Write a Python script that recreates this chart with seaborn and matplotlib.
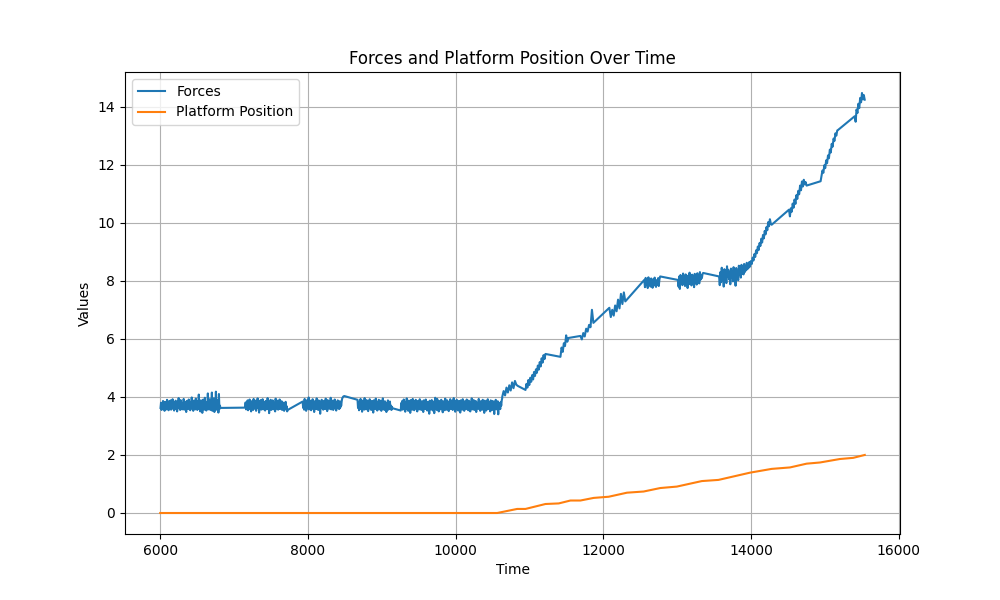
import numpy as np
import pandas as pd
import matplotlib
matplotlib.use("Agg")
import matplotlib.pyplot as plt
import seaborn as sns

# force readings, one list per recorded stretch (gaps are joined by straight lines)
block_start = [6004, 7149, 7928, 8671, 9256, 10630, 10945, 11418, 11688, 12080,
               12553, 13008, 13566, 13985, 14512, 14940, 15402]
block_end = [6815, 7725, 8491, 9144, 10630, 10840, 11215, 11526, 11864, 12296,
             12768, 13350, 13985, 14277, 14750, 15178, 15537]

f1 = [3.62, 3.80, 3.55, 3.74, 3.58, 3.86, 3.63, 3.77, 3.52, 3.83, 3.66, 3.72, 3.57, 3.90, 3.61, 3.79, 3.54, 3.85, 3.68, 3.60,
      3.88, 3.56, 3.75, 3.64, 3.92, 3.59, 3.81, 3.53, 3.78, 3.67, 3.87, 3.58, 3.73, 3.50, 3.84, 3.65, 3.96, 3.60, 3.76, 3.55,
      3.89, 3.62, 3.80, 3.57, 3.74, 3.66, 3.93, 3.56, 3.82, 3.61, 3.77, 3.48, 3.86, 3.64, 3.79, 3.58, 3.91, 3.63, 3.75, 3.54,
      3.83, 3.67, 3.98, 3.59, 3.78, 3.52, 3.87, 3.65, 3.72, 3.57, 3.94, 3.62, 3.81, 3.55, 3.85, 3.60, 4.08, 3.58, 3.76, 3.50,
      3.88, 3.64, 3.79, 3.45, 3.90, 3.66, 3.74, 3.56, 3.97, 3.61, 3.83, 3.53, 3.77, 3.68, 4.12, 3.57, 3.80, 3.62, 3.92, 3.55,
      3.86, 3.63, 4.15, 3.52, 3.78, 3.66, 3.95, 3.48, 3.84, 3.60, 4.18, 3.56, 3.90, 3.64, 3.74, 3.46, 4.10, 3.58, 3.70, 3.62]
f2 = [3.63, 3.81, 3.57, 3.76, 3.60, 3.88, 3.54, 3.79, 3.66, 3.91, 3.58, 3.73, 3.50, 3.85, 3.62, 3.78, 3.55, 3.93, 3.64, 3.71,
      3.59, 3.87, 3.52, 3.80, 3.67, 3.95, 3.61, 3.75, 3.46, 3.84, 3.63, 3.89, 3.56, 3.77, 3.60, 3.92, 3.57, 3.82, 3.65, 3.70,
      3.53, 3.86, 3.62, 3.79, 3.58, 3.96, 3.60, 3.74, 3.44, 3.83, 3.66, 3.90, 3.55, 3.78, 3.61, 3.88, 3.57, 3.81, 3.64, 3.73,
      3.50, 3.94, 3.59, 3.77, 3.63, 3.87, 3.56, 3.82, 3.60, 3.91, 3.58, 3.76, 3.62, 3.85, 3.55, 3.72, 3.66, 3.80, 3.52, 3.74,
      3.60, 3.83, 3.57, 3.68, 3.50, 3.55]
f3 = [3.84, 3.62, 3.79, 3.56, 3.93, 3.65, 3.81, 3.52, 3.76, 3.89, 3.60, 3.74, 3.98, 3.57, 3.82, 3.66, 3.87, 3.54, 3.78, 3.63,
      3.92, 3.59, 3.75, 3.48, 3.85, 3.67, 3.80, 3.58, 3.95, 3.61, 3.73, 3.55, 3.88, 3.64, 3.79, 3.42, 3.83, 3.66, 3.90, 3.60,
      3.77, 3.56, 3.86, 3.63, 3.81, 3.58, 3.94, 3.62, 3.75, 3.51, 3.89, 3.67, 3.78, 3.59, 3.84, 3.65, 3.97, 3.57, 3.80, 3.62,
      3.87, 3.55, 3.76, 3.64, 3.91, 3.60, 3.82, 3.53, 3.79, 3.66, 3.88, 3.61, 3.74, 3.58, 3.85, 3.63, 3.78, 3.70, 3.86, 3.95,
      3.98, 4.01, 4.02, 4.03]
f4 = [3.90, 3.62, 3.79, 3.54, 3.85, 3.67, 3.93, 3.58, 3.75, 3.49, 3.87, 3.64, 3.81, 3.56, 3.96, 3.61, 3.77, 3.57, 3.89, 3.66,
      3.73, 3.51, 3.84, 3.60, 3.92, 3.63, 3.78, 3.55, 3.86, 3.68, 3.80, 3.46, 3.88, 3.62, 3.76, 3.58, 3.94, 3.65, 3.79, 3.53,
      3.83, 3.61, 3.90, 3.57, 3.74, 3.64, 3.87, 3.52, 3.81, 3.66, 3.95, 3.59, 3.77, 3.55, 3.85, 3.63, 3.72, 3.48, 3.80, 3.60,
      3.88, 3.56, 3.75, 3.62, 3.84, 3.58, 3.70, 3.55, 3.66, 3.61]
f5 = [3.53, 3.79, 3.61, 3.86, 3.56, 3.73, 3.91, 3.62, 3.77, 3.49, 3.83, 3.66, 3.95, 3.58, 3.75, 3.52, 3.87, 3.64, 3.80, 3.45,
      3.89, 3.68, 3.76, 3.56, 3.93, 3.61, 3.81, 3.54, 3.84, 3.67, 3.90, 3.59, 3.74, 3.50, 3.86, 3.63, 3.79, 3.57, 3.92, 3.65,
      3.77, 3.55, 3.85, 3.62, 3.81, 3.48, 3.88, 3.66, 3.73, 3.58, 3.91, 3.61, 3.78, 3.53, 3.83, 3.64, 3.75, 3.42, 3.87, 3.60,
      3.80, 3.56, 3.89, 3.67, 3.71, 3.52, 3.84, 3.44, 3.76, 3.97, 3.59, 3.82, 3.55, 3.93, 3.62, 3.78, 3.50, 3.86, 3.65, 3.74,
      3.57, 3.90, 3.63, 3.79, 3.47, 3.85, 3.66, 3.72, 3.54, 3.94, 3.60, 3.80, 3.56, 3.88, 3.64, 3.76, 3.51, 3.83, 3.68, 3.92,
      3.58, 3.77, 3.62, 3.87, 3.55, 3.73, 3.96, 3.61, 3.81, 3.49, 3.84, 3.65, 3.90, 3.57, 3.78, 3.53, 3.86, 3.63, 3.75, 3.46,
      3.88, 3.67, 3.79, 3.56, 3.92, 3.60, 3.82, 3.52, 3.85, 3.66, 3.74, 3.58, 3.91, 3.62, 3.77, 3.54, 3.87, 3.64, 3.80, 3.50,
      3.83, 3.68, 3.95, 3.57, 3.76, 3.61, 3.89, 3.55, 3.79, 3.63, 3.86, 3.48, 3.81, 3.66, 3.73, 3.59, 3.93, 3.60, 3.78, 3.52,
      3.85, 3.64, 3.76, 3.56, 3.90, 3.62, 3.80, 3.45, 3.87, 3.67, 3.74, 3.53, 3.84, 3.61, 3.92, 3.58, 3.77, 3.63, 3.82, 3.50,
      3.88, 3.65, 3.79, 3.55, 3.86, 3.60, 3.75, 3.41, 3.83, 3.66, 3.90, 3.57, 3.78, 3.62, 3.85, 3.40, 3.80, 3.64, 3.72, 3.58,
      3.82, 3.70, 3.88, 3.96]
f6 = [4.00, 4.20, 4.05, 4.32, 4.15, 4.40, 4.22, 4.50, 4.30, 4.55, 4.42, 4.38]
f7 = [4.24, 4.45, 4.32, 4.58, 4.41, 4.66, 4.52, 4.75, 4.60, 4.86, 4.72, 4.95, 4.83, 5.08, 4.94, 5.20, 5.05, 5.33, 5.18, 5.44,
      5.30, 5.48]
f8 = [5.38, 5.70, 5.55, 5.85, 5.75, 6.12, 5.90, 6.03]
f9 = [6.10, 5.98, 6.20, 6.08, 6.35, 6.25, 6.48, 6.40, 7.00, 6.55]
f10 = [7.07, 6.75, 7.00, 6.80, 7.15, 6.95, 7.35, 7.05, 7.55, 7.20, 7.60, 7.29]
f11 = [8.03, 7.78, 8.10, 7.85, 8.00, 7.75, 8.12, 7.88, 7.98, 7.80, 8.08, 7.92, 7.76, 8.05, 7.84, 8.11, 7.90, 7.79, 8.02, 7.86,
       8.09, 7.82, 8.06, 8.15]
f12 = [8.03, 7.80, 8.15, 7.72, 8.20, 7.90, 8.10, 7.85, 8.25, 7.95, 8.12, 7.82, 8.22, 7.92, 8.05, 7.75, 8.18, 7.88, 8.28, 7.97,
       8.08, 7.84, 8.21, 7.93, 8.14, 7.78, 8.24, 7.96, 8.11, 7.87, 8.26, 8.00, 8.16, 7.91, 8.30, 8.04, 8.19, 8.09, 8.23, 8.27]
f13 = [8.15, 7.85, 8.30, 7.95, 8.45, 8.05, 8.25, 7.80, 8.40, 8.10, 8.35, 7.92, 8.50, 8.15, 8.38, 8.05, 8.28, 7.88, 8.42, 8.12,
       8.33, 7.98, 8.47, 8.08, 8.36, 7.83, 8.44, 8.18, 8.30, 8.02, 8.52, 8.20, 8.39, 8.11, 8.55, 8.25, 8.45, 8.22, 8.58, 8.30,
       8.50, 8.36, 8.62, 8.40, 8.57, 8.45, 8.65, 8.49]
f14 = [8.49, 8.68, 8.58, 8.80, 8.70, 8.92, 8.82, 9.05, 8.95, 9.18, 9.06, 9.30, 9.20, 9.45, 9.32, 9.58, 9.46, 9.72, 9.60, 9.85,
       9.74, 10.02, 9.88, 10.12, 9.98, 9.93]
f15 = [10.45, 10.22, 10.50, 10.38, 10.66, 10.52, 10.80, 10.65, 10.95, 10.82, 11.10, 10.98, 11.28, 11.12, 11.42, 11.25, 11.48,
       11.32, 11.40, 11.28]
f16 = [11.43, 11.62, 11.80, 11.72, 11.98, 11.88, 12.15, 12.05, 12.32, 12.22, 12.52, 12.42, 12.72, 12.62, 12.90, 12.82, 13.08,
       13.00, 13.18, 13.20]
f17 = [13.67, 13.48, 13.90, 13.78, 14.10, 13.95, 14.30, 14.15, 14.47, 14.25, 14.40, 14.24]

platform_time = [6000, 10562, 10832, 10945, 11215, 11395, 11553, 11688, 11868, 12071,
                 12319, 12544, 12769, 12994, 13332, 13557, 13985, 14278, 14526, 14751,
                 14931, 15201, 15381, 15538]
platform_pos = [0, 0, 0.14, 0.14, 0.31, 0.33, 0.43, 0.43, 0.52, 0.56, 0.70, 0.74, 0.86,
                0.91, 1.10, 1.14, 1.39, 1.52, 1.57, 1.70, 1.74, 1.86, 1.90, 2.0]

blocks = [f1, f2, f3, f4, f5, f6, f7, f8, f9, f10, f11, f12, f13, f14, f15, f16, f17]
times = []
forces = []
for s, e, vals in zip(block_start, block_end, blocks):
    # samples in each stretch are evenly spaced in time
    times.extend(np.linspace(s, e, len(vals)))
    forces.extend(vals)
df = pd.DataFrame({"Time": times, "Forces": forces})

plt.figure(figsize=(10, 6))
sns.lineplot(data=df, x="Time", y="Forces", label="Forces", color="C0",
             estimator=None, sort=False)
sns.lineplot(x=platform_time, y=platform_pos, label="Platform Position", color="C1",
             estimator=None, sort=False)

plt.title("Forces and Platform Position Over Time")
plt.xlabel("Time")
plt.ylabel("Values")
plt.legend(loc="upper left")
plt.grid(True)

plt.savefig("out.png", dpi=100)
